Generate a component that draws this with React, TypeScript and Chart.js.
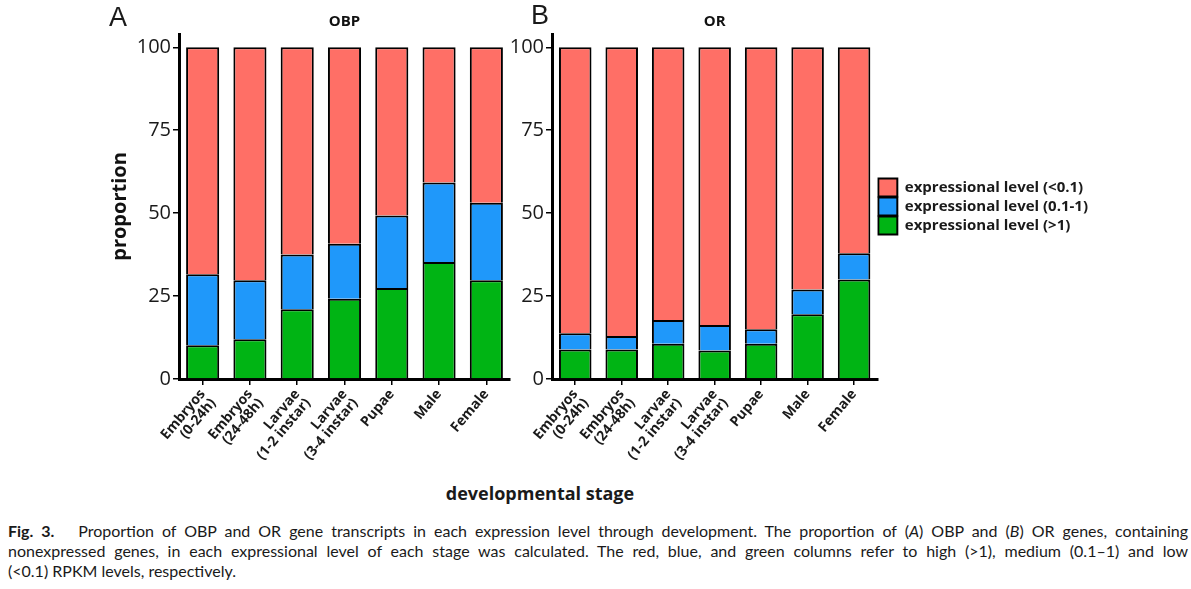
import React, { useEffect, useRef } from 'react';
import { Chart, registerables } from 'chart.js';

Chart.register(...registerables);
Chart.defaults.font.family = "'Open Sans', 'Noto Sans', sans-serif";

// ---------- data ----------
const stages: (string | string[])[] = [
  ['Embryos', '(0-24h)'],
  ['Embryos', '(24-48h)'],
  ['Larvae', '(1-2 instar)'],
  ['Larvae', '(3-4 instar)'],
  'Pupae',
  'Male',
  'Female',
];
const yTickValues = [0, 25, 50, 75, 100];
const seriesLabels = ['expressional level (>1)', 'expressional level (0.1-1)', 'expressional level (<0.1)'];
const seriesColors = ['#00B414', '#1F98FA', '#FF6F66'];

// OBP (panel A)
const obpHigh = [10.2, 12.0, 21.0, 24.2, 27.4, 35.3, 29.8];
const obpMedium = [21.4, 17.8, 16.5, 16.6, 21.9, 23.9, 23.3];
const obpLow = [68.4, 70.2, 62.5, 59.2, 50.7, 40.8, 46.9];

// OR (panel B)
const orHigh = [8.9, 8.9, 10.6, 8.6, 10.6, 19.5, 30.0];
const orMedium = [4.9, 4.1, 7.2, 7.7, 4.4, 7.5, 7.9];
const orLow = [86.2, 87.0, 82.2, 83.7, 85.0, 73.0, 62.1];

type PanelProps = {
  left: number;
  width: number;
  height: number;
  title: string;
  high: number[];
  medium: number[];
  low: number[];
  yTitle: boolean;
  legend: boolean;
  padLeft: number;
  padRight: number;
  yWidth: number;
};

function Panel(p: PanelProps) {
  const ref = useRef<HTMLCanvasElement>(null);
  useEffect(() => {
    const series = [p.high, p.medium, p.low];
    const chart = new Chart(ref.current!, {
      type: 'bar',
      data: {
        labels: stages,
        datasets: series.map((d, i) => ({
          label: seriesLabels[i],
          data: d,
          backgroundColor: seriesColors[i],
          borderColor: '#000',
          borderWidth: 2,
          borderSkipped: 'start',
          barPercentage: 0.7,
          categoryPercentage: 1,
        })),
      },
      options: {
        responsive: false,
        animation: false,
        layout: { padding: { left: p.padLeft, right: p.padRight, top: 0, bottom: 0 } },
        plugins: {
          tooltip: { enabled: false },
          title: {
            display: true,
            text: p.title,
            fullSize: false,
            font: { size: 15, weight: 'bold' },
            color: '#111',
            padding: { top: 13, bottom: 3 },
          },
          legend: {
            display: p.legend,
            position: 'right',
            align: 'center',
            fullSize: false,
            reverse: true,
            maxWidth: 400,
            labels: {
              boxWidth: 19,
              boxHeight: 18,
              padding: 1,
              color: '#1a1a1a',
              font: { size: 15, weight: 'bold' },
            },
          },
        },
        scales: {
          x: {
            stacked: true,
            offset: true,
            afterFit: (s: any) => {
              s.height = 91;
            },
            ticks: {
              autoSkip: false,
              maxRotation: 50,
              minRotation: 50,
              padding: 2,
              color: '#1a1a1a',
              font: { size: 14, weight: 'bold', lineHeight: 1.0 },
            },
            grid: {
              offset: false,
              drawOnChartArea: false,
              drawTicks: true,
              tickLength: 6,
              color: '#000',
              lineWidth: 1.5,
            },
            border: { color: '#000', width: 3 },
          },
          y: {
            stacked: true,
            min: 0,
            max: 104,
            afterBuildTicks: (s: any) => {
              s.ticks = yTickValues.map((v) => ({ value: v }));
            },
            afterFit: (s: any) => {
              s.width = p.yWidth;
            },
            ticks: {
              padding: 2,
              color: '#1a1a1a',
              font: { size: 20 },
            },
            grid: {
              drawOnChartArea: false,
              drawTicks: true,
              tickLength: 6,
              color: '#000',
              lineWidth: 1.5,
            },
            border: { color: '#000', width: 3 },
            title: {
              display: p.yTitle,
              text: 'proportion',
              color: '#111',
              font: { size: 20, weight: 'bold' },
              padding: { top: 4, bottom: 0 },
            },
          },
        },
      },
    } as any);
    return () => chart.destroy();
  }, []);
  return (
    <canvas
      ref={ref}
      width={p.width}
      height={p.height}
      style={{ position: 'absolute', left: p.left, top: 0, width: p.width, height: p.height }}
    />
  );
}

const captionLine: React.CSSProperties = {
  width: 1180,
  whiteSpace: 'nowrap',
  textAlign: 'justify',
  textAlignLast: 'justify' as any,
  height: 20,
  lineHeight: '20px',
};

export default function App() {
  return (
    <div
      style={{
        position: 'absolute',
        left: 0,
        top: 0,
        width: 1191,
        height: 589,
        background: '#fff',
        overflow: 'hidden',
        color: '#1a1a1a',
      }}
    >
      <Panel
        left={0}
        width={530}
        height={470}
        title="OBP"
        high={obpHigh}
        medium={obpMedium}
        low={obpLow}
        yTitle={true}
        legend={false}
        padLeft={104}
        padRight={20}
        yWidth={75}
      />
      <Panel
        left={470}
        width={721}
        height={470}
        title="OR"
        high={orHigh}
        medium={orMedium}
        low={orLow}
        yTitle={false}
        legend={true}
        padLeft={0}
        padRight={93}
        yWidth={82}
      />
      <div
        style={{
          position: 'absolute',
          left: 109,
          top: 4,
          fontFamily: "'Liberation Sans', Arial, sans-serif",
          fontSize: 27,
          lineHeight: 1,
        }}
      >
        A
      </div>
      <div
        style={{
          position: 'absolute',
          left: 531,
          top: 2,
          fontFamily: "'Liberation Sans', Arial, sans-serif",
          fontSize: 27,
          lineHeight: 1,
        }}
      >
        B
      </div>
      <div
        style={{
          position: 'absolute',
          left: 340,
          width: 400,
          top: 481,
          textAlign: 'center',
          fontFamily: "'Open Sans', sans-serif",
          fontWeight: 'bold',
          fontSize: 18,
          lineHeight: '24px',
        }}
      >
        developmental stage
      </div>
      <div
        style={{
          position: 'absolute',
          left: 8,
          top: 521,
          fontFamily: "Lato, 'Open Sans', sans-serif",
          fontSize: 16,
          color: '#1a1a1a',
        }}
      >
        <div style={captionLine}>
          <b>Fig. 3.</b>&nbsp;&nbsp;&nbsp;Proportion of OBP and OR gene transcripts in each expression level through
          development. The proportion of (<i>A</i>) OBP and (<i>B</i>) OR genes, containing
        </div>
        <div style={captionLine}>
          nonexpressed genes, in each expressional level of each stage was calculated. The red, blue, and green columns
          refer to high (&gt;1), medium (0.1–1) and low
        </div>
        <div style={{ ...captionLine, textAlign: 'left', textAlignLast: 'left' as any }}>
          (&lt;0.1) RPKM levels, respectively.
        </div>
      </div>
    </div>
  );
}
